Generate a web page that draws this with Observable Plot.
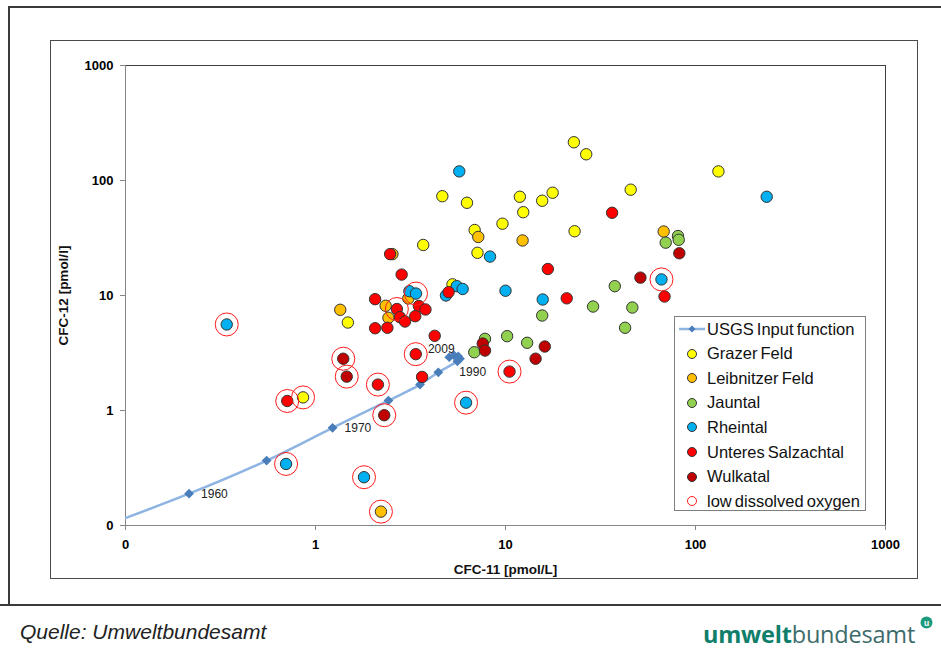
<!DOCTYPE html>
<html>
<head>
<meta charset="utf-8">
<script src="https://cdn.jsdelivr.net/npm/d3@7"></script>
<script src="https://cdn.jsdelivr.net/npm/@observablehq/plot@0.6"></script>
<style>
  body { margin: 0; background: #fff; font-family: "Liberation Sans", Arial, sans-serif; }
  #wrap { position: relative; width: 941px; height: 655px; overflow: hidden; background: #fff; }
  .ln { position: absolute; background: #3a3a3a; }
  #chartFrame { position: absolute; left: 50px; top: 40px; width: 866px; height: 537px; border: 1px solid #4a4a4a; }
  #plotHost { position: absolute; left: 0; top: 0; }
  #plotHost svg g[aria-label="x-axis tick"], #plotHost svg g[aria-label="y-axis tick"] { stroke: #868686; }
  #plotHost svg g[aria-label="x-axis tick label"], #plotHost svg g[aria-label="y-axis tick label"] { font-weight: bold; }
  #legend { position: absolute; left: 674px; top: 316px; width: 190px; height: 193px; border: 1px solid #7f7f7f; background: #fff; }
  .lrow { position: absolute; left: 0; height: 24px; display: flex; align-items: center; white-space: nowrap; }
  .lrow svg { flex: none; }
  .lrow span { font-size: 16.5px; color: #111; word-spacing: -1.5px; margin-left: 1px; }
  #source { position: absolute; left: 20px; top: 620px; font-size: 21px; font-style: italic; color: #222; }
  #logo { position: absolute; left: 703px; top: 618px; font-family: "Open Sans", "Noto Sans", sans-serif; font-size: 23.5px; letter-spacing: -0.2px; }
  #logo b { color: #0f7f6c; font-weight: 700; }
  #logo span.r { color: #3d6b6b; font-weight: 400; }
  #logoMark { position: absolute; left: 920px; top: 616px; }
</style>
</head>
<body>
<div id="wrap">
  <div class="ln" style="left:8px;top:6px;width:933px;height:2px;"></div>
  <div class="ln" style="left:8px;top:6px;width:2px;height:600px;"></div>
  <div class="ln" style="left:0;top:604px;width:941px;height:2px;"></div>
  <div id="chartFrame"></div>
  <div id="plotHost"></div>
  <div id="legend"></div>
  <div id="source">Quelle: Umweltbundesamt</div>
  <div id="logo"><b>umwelt</b><span class="r">bundesamt</span></div>
  <svg id="logoMark" width="13" height="13"><circle cx="6.5" cy="6.5" r="6" fill="#1f9a7e"/><text x="6.5" y="9.5" text-anchor="middle" font-size="8.5" font-weight="bold" fill="#fff" font-family="Liberation Sans, Arial">u</text></svg>
</div>
<script>
// ---------- data ----------
const xTicks = [0.1, 1, 10, 100, 1000];
const yTicks = [0.1, 1, 10, 100, 1000];

// USGS input function (CFC-11, CFC-12 in pmol/L)
const usgsYear = [1955, 1960, 1965, 1970, 1975, 1980, 1985, 1990, 1995, 2000, 2005, 2009];
const usgsX    = [0.06, 0.216, 0.553, 1.23, 2.42, 3.55, 4.43, 5.58, 5.76, 5.64, 5.36, 5.06];
const usgsY    = [0.085, 0.189, 0.367, 0.707, 1.22, 1.68, 2.15, 2.68, 2.82, 2.95, 3.01, 2.91];
const labelledYears = [1960, 1970, 1990, 2009];

const grazerX = [22.9, 26.6, 132, 45.6, 11.9, 17.7, 15.6, 12.4, 9.64, 4.65, 6.27, 6.88, 23.1, 3.69, 7.12, 5.26, 1.48, 0.86];
const grazerY = [215, 169, 120, 83.2, 72.2, 78.3, 66.7, 53.0, 42.1, 73.0, 64.0, 37.1, 36.2, 27.5, 23.5, 12.5, 5.82, 1.30];
const grazerLow = [17];

const leibnitzX = [1.35, 2.54, 7.19, 12.3, 68.0, 2.21, 2.34, 2.42, 3.08];
const leibnitzY = [7.51, 22.9, 32.3, 30.1, 36.0, 0.132, 8.14, 6.40, 9.42];
const leibnitzLow = [5];

const jauntalX = [80.9, 81.6, 69.7, 37.6, 28.9, 46.5, 15.6, 42.6, 7.80, 6.85, 10.2, 13.0];
const jauntalY = [32.9, 30.5, 28.8, 12.05, 8.02, 7.86, 6.70, 5.24, 4.20, 3.21, 4.43, 3.88];
const jauntalLow = [];

const rheintalX = [5.71, 8.29, 237, 0.341, 3.12, 3.38, 5.54, 5.95, 4.86, 10.0, 15.7, 66.2, 6.2, 0.70, 1.80];
const rheintalY = [120, 21.8, 72.2, 5.60, 10.9, 10.4, 12.05, 11.4, 10.0, 11.0, 9.23, 13.8, 1.17, 0.343, 0.263];
const rheintalLow = [3, 5, 11, 12, 13, 14];

const salzachX = [36.4, 16.7, 21.0, 68.7, 2.47, 2.84, 2.06, 2.68, 3.50, 3.79, 2.78, 3.35, 2.96, 2.06, 2.39, 4.24, 5.02, 3.37, 2.13, 3.64, 10.5, 0.71];
const salzachY = [52.4, 17.0, 9.45, 9.80, 22.9, 15.2, 9.29, 7.63, 8.10, 7.56, 6.48, 6.61, 5.94, 5.19, 5.24, 4.46, 10.7, 3.09, 1.68, 1.96, 2.18, 1.21];
const salzachLow = [7, 17, 18, 20, 21];

const wulkaX = [82.2, 51.3, 7.59, 7.80, 16.1, 14.4, 1.40, 1.46, 2.30];
const wulkaY = [23.3, 14.3, 3.82, 3.32, 3.60, 2.82, 2.82, 1.97, 0.91];
const wulkaLow = [6, 7, 8];

const seriesNames = ["Grazer Feld", "Leibnitzer Feld", "Jauntal", "Rheintal", "Unteres Salzachtal", "Wulkatal"];
const seriesColors = ["#ffff00", "#ffc000", "#92d050", "#00b0f0", "#ff0000", "#c00000"];
const lineName = "USGS Input function";
const lowName = "low dissolved oxygen";

// ---------- build tables ----------
const seriesData = [
  [grazerX, grazerY, grazerLow],
  [leibnitzX, leibnitzY, leibnitzLow],
  [jauntalX, jauntalY, jauntalLow],
  [rheintalX, rheintalY, rheintalLow],
  [salzachX, salzachY, salzachLow],
  [wulkaX, wulkaY, wulkaLow]
];
const points = seriesData.flatMap(([xs, ys, low], s) =>
  xs.map((x, i) => ({series: seriesNames[s], color: seriesColors[s], x, y: ys[i], low: low.includes(i)})));
const lowPoints = points.filter(d => d.low);
const usgs = usgsYear.map((yr, i) => ({year: yr, x: usgsX[i], y: usgsY[i]}));

const tickText = d => d < 1 ? "0" : String(d);
const labelStyle = {
  1960: {dx: 12, dy: 0, textAnchor: "start"},
  1970: {dx: 12, dy: 0, textAnchor: "start"},
  1990: {dx: 2, dy: 11, textAnchor: "start"},
  2009: {dx: -8, dy: -8, textAnchor: "middle"}
};
const yearMarks = labelledYears.map(yr => Plot.text(usgs.filter(d => d.year === yr), {
  x: "x", y: "y", text: d => String(d.year), fontSize: 12, fill: "#222", ...labelStyle[yr]
}));

const chart = Plot.plot({
  width: 941,
  height: 655,
  marginLeft: 125,
  marginRight: 56,
  marginTop: 65,
  marginBottom: 130,
  x: {type: "log", domain: [0.1, 1000]},
  y: {type: "log", domain: [0.1, 1000]},
  color: {type: "identity"},
  style: {background: "transparent", fontFamily: "'Liberation Sans', Arial, sans-serif", fontSize: "13px", color: "#000", overflow: "visible"},
  marks: [
    Plot.frame({stroke: "#3f3f3f"}),
    Plot.ruleX([0.1], {stroke: "#868686"}),
    Plot.ruleY([0.1], {stroke: "#868686"}),
    Plot.axisX({ticks: xTicks, tickFormat: tickText, tickSize: 5, tickPadding: 9, label: null, fontSize: 13}),
    Plot.axisY({ticks: yTicks, tickFormat: tickText, tickSize: 5, tickPadding: 7, label: null, fontSize: 13}),
    Plot.text(["CFC-11 [pmol/L]"], {frameAnchor: "bottom", dy: 44, lineAnchor: "middle", textAnchor: "middle", fontWeight: "bold", fontSize: 13.5, fill: "#111"}),
    Plot.text(["CFC-12 [pmol/l]"], {frameAnchor: "left", dx: -62, rotate: -90, lineAnchor: "middle", textAnchor: "middle", fontWeight: "bold", fontSize: 13.5, fill: "#111"}),
    Plot.line(usgs, {x: "x", y: "y", stroke: "#8db4e2", strokeWidth: 2.5, curve: "catmull-rom", clip: true}),
    Plot.dot(usgs, {x: "x", y: "y", symbol: "square", r: 3.9, fill: "#4a7ebb", rotate: 45, clip: true}),
    ...yearMarks,
    Plot.dot(points, {x: "x", y: "y", r: 5.7, fill: "color", stroke: "#333", strokeWidth: 1}),
    Plot.dot(lowPoints, {x: "x", y: "y", r: 11.5, fill: "none", stroke: "#ff1a1a", strokeWidth: 1})
  ]
});
document.getElementById("plotHost").appendChild(chart);

// ---------- legend ----------
const legend = d3.select("#legend");
const rows = [{kind: "line", name: lineName}]
  .concat(seriesNames.map((n, i) => ({kind: "dot", name: n, color: seriesColors[i]})))
  .concat([{kind: "ring", name: lowName}]);
rows.forEach((r, i) => {
  const row = legend.append("div").attr("class", "lrow").style("top", (i * 24.6) + "px");
  const s = row.append("svg").attr("width", 31).attr("height", 24);
  if (r.kind === "line") {
    s.append("line").attr("x1", 4).attr("x2", 30).attr("y1", 12).attr("y2", 12).attr("stroke", "#8db4e2").attr("stroke-width", 2.5);
    s.append("path").attr("d", "M17,8.5 L20.5,12 L17,15.5 L13.5,12 Z").attr("fill", "#4a7ebb");
  } else if (r.kind === "dot") {
    s.append("circle").attr("cx", 17).attr("cy", 12).attr("r", 4.5).attr("fill", r.color).attr("stroke", "#333").attr("stroke-width", 1);
  } else {
    s.append("circle").attr("cx", 17).attr("cy", 12).attr("r", 4.5).attr("fill", "none").attr("stroke", "#ff1a1a").attr("stroke-width", 1);
  }
  row.append("span").text(r.name);
});
</script>
</body>
</html>
